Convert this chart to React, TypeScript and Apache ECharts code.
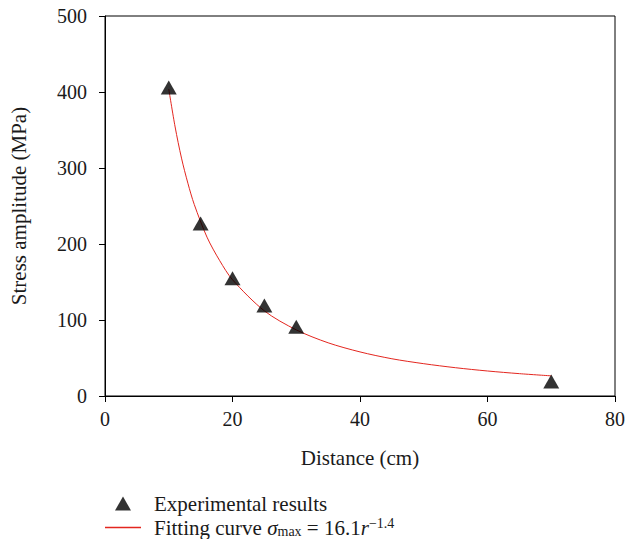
import React, { useEffect, useRef } from "react";
import * as echarts from "echarts";

const expDistance = [10, 15, 20, 25, 30, 70];
const expStress = [406, 227, 155, 119, 91, 19];

const fitDistance = [10, 11, 12, 13, 14, 16, 18, 20, 25, 30, 35, 40, 45, 50, 55, 60, 65, 70];
const fitStress = [404, 354, 313, 280, 252, 209, 178, 153, 112, 87, 70, 58, 49, 42.5, 37.2, 32.9, 29.4, 26.5];

const xTicks = [0, 20, 40, 60, 80];
const yTicks = [0, 100, 200, 300, 400, 500];

const FONT = "Liberation Serif";
const TXT = "#1a1a1a";

export default function App() {
  const ref = useRef<HTMLDivElement>(null);
  useEffect(() => {
    if (!ref.current) return;
    const chart = echarts.init(ref.current, null, { renderer: "svg" });
    chart.setOption({
      animation: false,
      backgroundColor: "#fff",
      textStyle: { fontFamily: FONT },
      grid: {
        left: 105,
        right: 25,
        top: 16,
        bottom: 143,
        show: true,
        borderColor: "#000",
        borderWidth: 1,
        backgroundColor: "transparent",
      },
      xAxis: {
        type: "value",
        min: xTicks[0],
        max: xTicks[xTicks.length - 1],
        interval: 20,
        name: "Distance (cm)",
        nameLocation: "middle",
        nameGap: 51,
        nameTextStyle: { fontFamily: FONT, fontSize: 21, color: TXT },
        axisLine: { lineStyle: { color: "#000", width: 1 } },
        axisTick: { show: true, length: 6, inside: false, lineStyle: { color: "#000" } },
        axisLabel: { fontFamily: FONT, fontSize: 20, color: TXT, margin: 13 },
        splitLine: { show: false },
      },
      yAxis: {
        type: "value",
        min: yTicks[0],
        max: yTicks[yTicks.length - 1],
        interval: 100,
        name: "Stress amplitude (MPa)",
        nameLocation: "middle",
        nameGap: 76,
        nameTextStyle: { fontFamily: FONT, fontSize: 21, color: TXT },
        axisLine: { lineStyle: { color: "#000", width: 1 } },
        axisTick: { show: true, length: 6, inside: false, lineStyle: { color: "#000" } },
        axisLabel: { fontFamily: FONT, fontSize: 20, color: TXT, margin: 18 },
        splitLine: { show: false },
      },
      legend: [
        {
          orient: "vertical",
          left: 115,
          top: 493,
          padding: 0,
          itemWidth: 16,
          itemHeight: 14,
          data: [{ name: "Experimental results", icon: "triangle" }],
          textStyle: { fontFamily: FONT, fontSize: 21, color: TXT, padding: [0, 0, 0, 18] },
        },
        {
          orient: "vertical",
          left: 105,
          top: 516,
          padding: 0,
          itemWidth: 36,
          itemHeight: 1.5,
          data: [{ name: "Fitting curve", icon: "rect" }],
          formatter: () => "Fitting curve {i|σ}{sub|max} = 16.1{i|r}{sup|−1.4}",
          textStyle: {
            fontFamily: FONT,
            fontSize: 21,
            color: TXT,
            padding: [0, 0, 0, 8],
            rich: {
              i: { fontFamily: FONT, fontSize: 21, fontStyle: "italic", color: TXT },
              sub: { fontFamily: FONT, fontSize: 14, color: TXT, padding: [8, 0, 0, 0] },
              sup: { fontFamily: FONT, fontSize: 14, color: TXT, padding: [0, 0, 9, 0] },
            },
          },
        },
      ],
      series: [
        {
          name: "Fitting curve",
          type: "line",
          data: fitDistance.map((d, i) => [d, fitStress[i]]),
          smooth: 0.3,
          showSymbol: false,
          symbol: "none",
          lineStyle: { color: "#e3261f", width: 1 },
          itemStyle: { color: "#e3261f" },
          z: 2,
        },
        {
          name: "Experimental results",
          type: "scatter",
          data: expDistance.map((d, i) => [d, expStress[i]]),
          symbol: "triangle",
          symbolSize: [16, 14],
          itemStyle: { color: "#000" },
          z: 3,
        },
      ],
    });
    return () => chart.dispose();
  }, []);
  return <div ref={ref} style={{ position: "absolute", left: 0, top: 0, width: 640, height: 539, fontFamily: "Liberation Serif, serif" }} />;
}
